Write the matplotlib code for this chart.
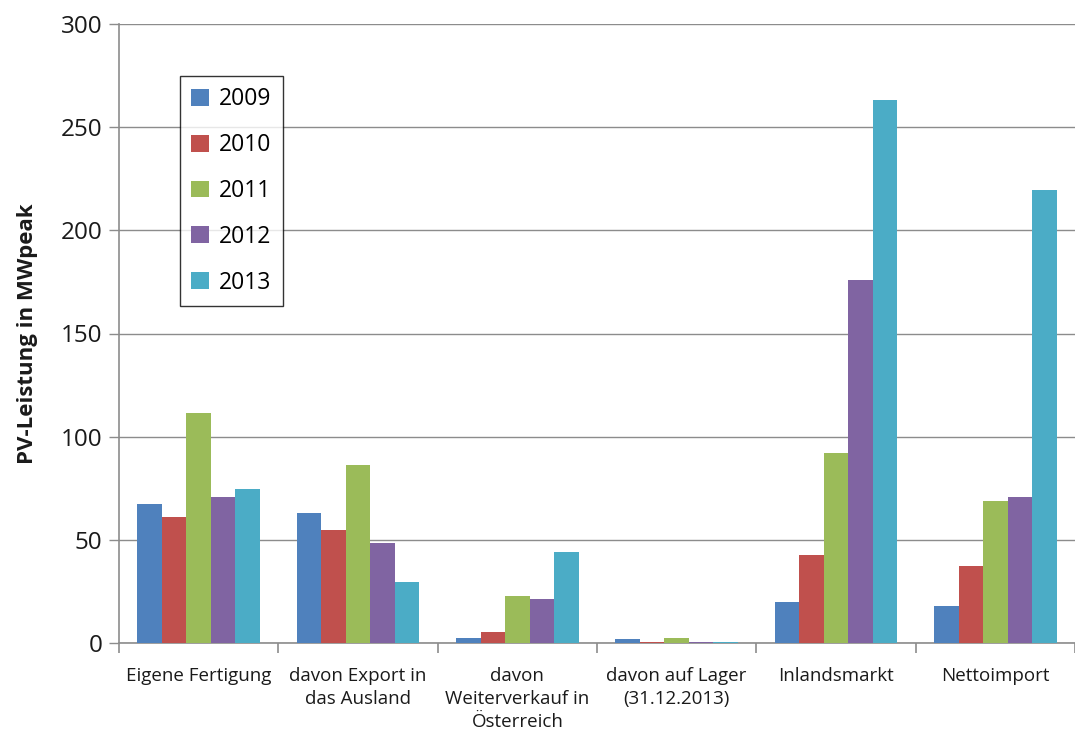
import matplotlib
matplotlib.use("Agg")
import matplotlib.pyplot as plt
import numpy as np

categories = ["Eigene Fertigung", "davon Export in\ndas Ausland", "davon\nWeiterverkauf in\nÖsterreich",
              "davon auf Lager\n(31.12.2013)", "Inlandsmarkt", "Nettoimport"]
years = ["2009", "2010", "2011", "2012", "2013"]
v2009 = [67.2, 63.1, 2.4, 1.9, 19.8, 17.8]
v2010 = [61.0, 54.7, 5.3, 0.6, 42.6, 37.5]
v2011 = [111.7, 86.3, 22.9, 2.2, 91.9, 68.6]
v2012 = [70.9, 48.5, 21.4, 0.6, 175.8, 70.7]
v2013 = [74.5, 29.8, 44.0, 0.5, 263.2, 219.4]
colors = ["#4F81BD", "#C0504D", "#9BBB59", "#8064A2", "#4BACC6"]
series = [v2009, v2010, v2011, v2012, v2013]

plt.rcParams['font.family'] = ['Open Sans', 'DejaVu Sans']

fig = plt.figure(figsize=(10.75, 7.33), dpi=100)
W, H = 1075, 733
left, right, top, bottom = 119, 1075, 24, 643
ax = fig.add_axes([left / W, 1 - bottom / H, (right - left) / W, (bottom - top) / H])

n = len(categories)
x = np.arange(n)
bw = 0.154
for i, (vals, c, y) in enumerate(zip(series, colors, years)):
    ax.bar(x + (i - 2) * bw, vals, width=bw, color=c, linewidth=0,
           label=y, zorder=3)

cat_w = 161.0
ax.set_xlim(-0.5, -0.5 + (right - left) / cat_w)
ax.set_ylim(0, 300)
ax.set_yticks(np.arange(0, 301, 50))
ax.yaxis.grid(True, color="#8c8c8c", linewidth=1.0, zorder=0)
ax.set_axisbelow(True)

ax.set_xticks(x)
ax.set_xticklabels(categories, fontsize=13.5, linespacing=1.38, color="#1a1a1a")
ax.set_xticks(np.arange(-0.5, n + 0.5, 1), minor=True)
ax.tick_params(axis="x", which="major", length=0, pad=17)
ax.tick_params(axis="x", which="minor", length=7, color="#8c8c8c", width=1.2)
ax.tick_params(axis="y", length=7, color="#8c8c8c", width=1.0, labelsize=17.5, pad=5, labelcolor="#1a1a1a")

for s in ["top", "right"]:
    ax.spines[s].set_visible(False)
for s in ["left", "bottom"]:
    ax.spines[s].set_color("#8c8c8c")
    ax.spines[s].set_linewidth(1.2)

ax.set_ylabel("PV-Leistung in MWpeak", fontsize=16, fontweight="bold", labelpad=16, color="#1a1a1a")

leg = ax.legend(loc="upper left", bbox_to_anchor=((180 - left) / (right - left), (643 - 76) / (643 - 24)),
                fontsize=16.5, frameon=True, fancybox=False, edgecolor="black", handlelength=0.75,
                handleheight=0.75, handletextpad=0.45, labelspacing=0.95, borderpad=0.5,
                borderaxespad=0)
leg.get_frame().set_linewidth(1.0)

fig.savefig("out.png", dpi=100)
